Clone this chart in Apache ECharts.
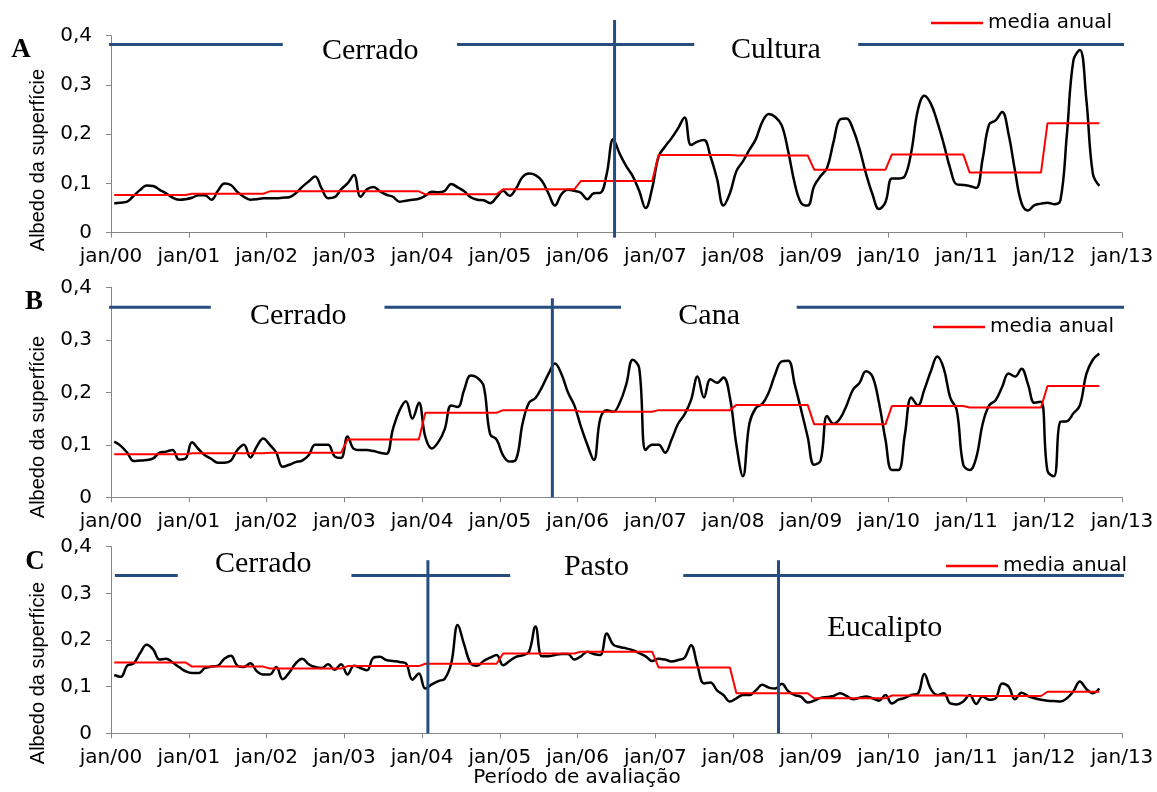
<!DOCTYPE html>
<html><head><meta charset="utf-8">
<script src="https://cdn.jsdelivr.net/npm/echarts@6/dist/echarts.min.js"></script>
<style>html,body{margin:0;padding:0;background:#fff}#c{width:1157px;height:792px}</style>
</head><body><div id="c"></div>
<script>
// ---------- data ----------
const xTickLabels = ['jan/00','jan/01','jan/02','jan/03','jan/04','jan/05','jan/06','jan/07','jan/08','jan/09','jan/10','jan/11','jan/12','jan/13'];
const yTickLabels = ['0','0,1','0,2','0,3','0,4'];
const yTitle = 'Albedo da superfície';
const xTitle = 'Período de avaliação';
const meanName = 'media anual';

// monthly surface albedo, jan/2000 .. sep/2012 (one value per month)
const albedoA = [
 .060,.061,.063,.075,.087,.096,.095,.087,.080,.071,.067,.068,
 .071,.076,.076,.067,.085,.100,.097,.083,.073,.067,.068,.070,
 .070,.070,.071,.072,.080,.093,.104,.114,.090,.070,.072,.088,
 .100,.117,.073,.088,.093,.084,.077,.073,.063,.065,.067,.069,
 .075,.083,.082,.085,.099,.092,.084,.072,.067,.066,.060,.072,
 .085,.075,.090,.113,.120,.117,.105,.080,.055,.078,.087,.085,
 .081,.068,.080,.081,.120,.190,.160,.135,.115,.085,.050,.090,
 .155,.175,.192,.212,.234,.178,.185,.188,.155,.110,.055,.080,
 .125,.145,.168,.190,.225,.241,.235,.218,.165,.100,.060,.055,
 .095,.115,.132,.185,.230,.232,.210,.170,.120,.078,.048,.062,
 .110,.110,.115,.165,.249,.278,.262,.225,.180,.130,.098,.097,
 .095,.091,.150,.220,.228,.245,.200,.125,.060,.045,.056,.059,
 .061,.058,.066,.200,.350,.371,.270,.120,.095];
const meanA = [.0765,.079,.084,.084,.078,.088,.105,.158,.157,.128,.159,.122,.222];

const albedoB = [
 .106,.098,.085,.069,.070,.071,.074,.085,.087,.090,.072,.074,
 .105,.092,.080,.073,.066,.066,.070,.090,.100,.076,.097,.112,
 .100,.085,.058,.062,.067,.070,.080,.100,.100,.100,.078,.075,
 .116,.092,.090,.090,.088,.085,.083,.130,.165,.183,.150,.180,
 .115,.093,.105,.130,.175,.172,.205,.232,.228,.212,.120,.110,
 .080,.068,.072,.140,.180,.189,.210,.235,.255,.235,.200,.175,
 .135,.100,.071,.150,.166,.163,.180,.215,.262,.246,.090,.100,
 .100,.085,.110,.140,.158,.185,.230,.190,.225,.218,.228,.190,
 .100,.040,.140,.170,.178,.200,.235,.259,.260,.215,.166,.115,
 .062,.070,.155,.140,.150,.175,.205,.218,.240,.230,.180,.110,
 .052,.052,.120,.190,.175,.205,.240,.268,.245,.190,.166,.062,
 .052,.075,.140,.175,.185,.210,.236,.230,.245,.215,.180,.182,
 .050,.040,.144,.145,.160,.175,.235,.262,.274];
const meanB = [.082,.084,.085,.110,.161,.166,.163,.166,.176,.139,.174,.171,.212];

const albedoC = [
 .125,.121,.145,.150,.172,.190,.180,.158,.160,.152,.142,.133,
 .129,.129,.140,.143,.145,.160,.166,.145,.142,.150,.133,.126,
 .126,.142,.116,.130,.150,.160,.148,.142,.140,.148,.136,.148,
 .126,.145,.140,.135,.162,.164,.157,.155,.153,.150,.115,.128,
 .096,.105,.112,.117,.150,.232,.190,.150,.145,.155,.162,.168,
 .146,.155,.164,.167,.175,.229,.165,.165,.168,.170,.170,.158,
 .165,.175,.170,.168,.214,.190,.185,.182,.178,.172,.165,.155,
 .160,.158,.154,.157,.162,.189,.145,.107,.109,.092,.082,.068,
 .075,.082,.082,.092,.104,.098,.096,.106,.090,.082,.078,.066,
 .070,.076,.078,.080,.086,.080,.073,.076,.079,.075,.070,.082,
 .064,.072,.076,.082,.085,.127,.095,.082,.086,.064,.062,.068,
 .082,.063,.079,.072,.075,.107,.100,.073,.087,.080,.075,.072,
 .070,.069,.068,.075,.090,.111,.095,.086,.096];
const meanC = [.152,.143,.139,.144,.149,.171,.175,.141,.086,.075,.081,.080,.089];

const panelLetters = ['A','B','C'];
const landUseA = ['Cerrado','Cultura'];
const landUseB = ['Cerrado','Cana'];
const landUseC = ['Cerrado','Pasto','Eucalipto'];

// ---------- helpers (month index -> mid-month position on a month axis) ----------
function monthly(values){ return values.map((v,i)=>[i+0.5, v]); }
function annualSteps(means, lastIdx){
  const pts=[];
  means.forEach((v,y)=>{ const a=y*12, b=Math.min(y*12+11,lastIdx); pts.push([a+0.5,v],[b+0.5,v]); });
  return pts;
}

// ---------- layout / annotations ----------
const BLUE = '#264d80';
const SANS = '"DejaVu Sans", sans-serif';
const SERIF = '"Liberation Serif", "Times New Roman", serif';
const panels = [
  { albedo: albedoA, mean: meanA, top: 35.7, height: 197, letter:[21,50], titleY:160, legendTop:13, legendLeft:931,
    hY: 0.382, hSegs: [[-0.6,26.5],[53.4,90.0],[115.3,158.3]], vLines: [[77.7,-0.01,0.432]],
    texts: [[landUseA[0],40,0.369],[landUseA[1],102.6,0.370]] },
  { albedo: albedoB, mean: meanB, top: 287.3, height: 210, letter:[34,302], titleY:427, legendTop:317, legendLeft:933,
    hY: 0.362, hSegs: [[-0.3,15.4],[42.2,78.7],[105.8,158.6]], vLines: [[68.1,0,0.379]],
    texts: [[landUseB[0],28.9,0.345],[landUseB[1],92.3,0.345]] },
  { albedo: albedoC, mean: meanC, top: 546.7, height: 186.6, letter:[35,562], titleY:673, legendTop:556, legendLeft:946,
    hY: 0.338, hSegs: [[0.6,10.3],[37.1,61.6],[88.3,159.6]], vLines: [[48.9,0,0.371],[103.0,0,0.371]],
    texts: [[landUseC[0],23.5,0.362],[landUseC[1],74.9,0.356],[landUseC[2],119.4,0.226]] }
];

const grid=[], xAxis=[], yAxis=[], series=[], legend=[], graphic=[];
const axisGray = '#868686';
panels.forEach((p,g)=>{
  grid.push({left:111, width:1011, top:p.top, height:p.height, outerBoundsMode:'none'});
  xAxis.push({type:'value', gridIndex:g, min:0, max:156, interval:12,
    axisLine:{show:true, onZero:false, lineStyle:{color:axisGray, width:1}},
    axisTick:{show:true, length:5, lineStyle:{color:axisGray}},
    splitLine:{show:false},
    axisLabel:{show:true, margin:14, fontFamily:SANS, fontSize:20, color:'#000',
      formatter:v=>xTickLabels[Math.round(v/12)], showMinLabel:true, showMaxLabel:true}});
  yAxis.push({type:'value', gridIndex:g, min:0, max:0.4, interval:0.1,
    axisLine:{show:true, lineStyle:{color:axisGray, width:1}},
    axisTick:{show:true, length:5, lineStyle:{color:axisGray}},
    splitLine:{show:false},
    axisLabel:{show:true, margin:19, fontFamily:SANS, fontSize:20, color:'#000',
      formatter:v=>yTickLabels[Math.round(v*10)]}});
  const last = p.albedo.length-1;
  series.push({type:'line', name:'albedo', xAxisIndex:g, yAxisIndex:g, data:monthly(p.albedo),
    showSymbol:false, smooth:0.4, lineStyle:{color:'#000', width:2.5}, itemStyle:{color:'#000'}, z:3, silent:true});
  series.push({type:'line', name:meanName, xAxisIndex:g, yAxisIndex:g, data:annualSteps(p.mean,last),
    showSymbol:false, lineStyle:{color:'#ff0000', width:2}, itemStyle:{color:'#ff0000'}, z:4, silent:true});
  p.hSegs.forEach(s=>{
    series.push({type:'line', name:'lim', xAxisIndex:g, yAxisIndex:g, data:[[s[0],p.hY],[s[1],p.hY]],
      showSymbol:false, clip:false, lineStyle:{color:BLUE, width:3}, itemStyle:{color:BLUE}, z:5, silent:true});
  });
  p.vLines.forEach(v=>{
    series.push({type:'line', name:'lim', xAxisIndex:g, yAxisIndex:g, data:[[v[0],v[1]],[v[0],v[2]]],
      showSymbol:false, clip:false, lineStyle:{color:BLUE, width:3}, itemStyle:{color:BLUE}, z:5, silent:true});
  });
  series.push({type:'scatter', name:'txt', xAxisIndex:g, yAxisIndex:g, symbol:'circle', symbolSize:1, clip:false, silent:true,
    itemStyle:{color:'rgba(255,255,255,0)'},
    data:p.texts.map(t=>({name:t[0], value:[t[1],t[2]]})),
    label:{show:true, position:'inside', formatter:q=>q.name, fontFamily:SERIF, fontSize:30, color:'#000',
      textBorderWidth:0, textBorderColor:'transparent', opacity:1}, z:6});
  legend.push({data:[meanName], left:p.legendLeft, top:p.legendTop, padding:0, icon:'rect', itemWidth:52, itemHeight:2.5,
    selectedMode:false, textStyle:{fontFamily:SANS, fontSize:20, color:'#000', lineHeight:20}});
  graphic.push({type:'text', x:38, y:p.titleY, rotation:Math.PI/2, silent:true,
    style:{text:yTitle, font:'20px "Liberation Sans", Arial, sans-serif', textAlign:'center', textVerticalAlign:'middle', fill:'#000'}});
  graphic.push({type:'text', x:p.letter[0], y:p.letter[1], silent:true,
    style:{text:panelLetters[g], font:'bold 27px "Liberation Serif", serif', textAlign:'center', textVerticalAlign:'middle', fill:'#000'}});
});
graphic.push({type:'text', x:577, y:778, silent:true,
  style:{text:xTitle, font:'20px "DejaVu Sans", sans-serif', textAlign:'center', textVerticalAlign:'middle', fill:'#000'}});

const chart = echarts.init(document.getElementById('c'), null, {renderer:'canvas'});
chart.setOption({animation:false, backgroundColor:'#fff', grid, xAxis, yAxis, series, legend, graphic, tooltip:{show:false}});
</script></body></html>
